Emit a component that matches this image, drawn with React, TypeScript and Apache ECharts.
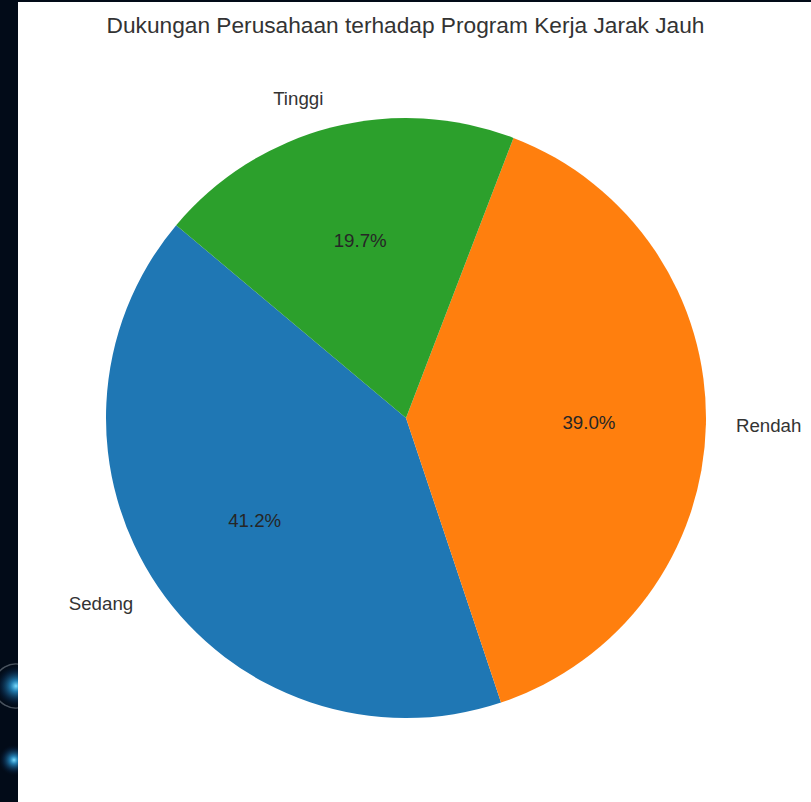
import React, { useEffect, useRef } from "react";
import * as echarts from "echarts";

const titleText = "Dukungan Perusahaan terhadap Program Kerja Jarak Jauh";
const categories = ["Sedang", "Rendah", "Tinggi"];
const shares = [41.2, 39.0, 19.7];
const colors = ["#1f77b4", "#ff7f0e", "#2ca02c"];

const FONT = "'Liberation Sans', Arial, sans-serif";

export default function App() {
  const ref = useRef<HTMLDivElement>(null);
  useEffect(() => {
    if (!ref.current) return;
    const chart = echarts.init(ref.current, undefined, { renderer: "svg" });
    const data = categories.map((c, i) => ({
      name: c,
      value: shares[i],
      itemStyle: { color: colors[i] },
    }));
    const glow = (cx: number, cy: number, r: number, ring: boolean) => [
      {
        type: "circle",
        shape: { cx, cy, r },
        style: {
          fill: new echarts.graphic.RadialGradient(0.5, 0.5, 0.5, [
            { offset: 0, color: "rgba(120,220,255,1)" },
            { offset: 0.25, color: "rgba(40,150,210,0.8)" },
            { offset: 0.7, color: "rgba(10,50,90,0.4)" },
            { offset: 1, color: "rgba(2,11,24,0)" },
          ]),
          stroke: ring ? "rgba(120,130,140,0.6)" : "none",
          lineWidth: ring ? 1.5 : 0,
        },
      },
    ];
    chart.setOption({
      animation: false,
      backgroundColor: "#ffffff",
      title: {
        text: titleText,
        left: "center",
        top: 8,
        textStyle: {
          fontFamily: FONT,
          fontSize: 22.7,
          fontWeight: "normal",
          color: "#333333",
        },
      },
      graphic: [
        { type: "rect", shape: { x: 0, y: 0, width: 811, height: 802 }, style: { fill: "#020b18" } },
        ...glow(16, 686, 22, true),
        ...glow(14, 760, 16, false),
        { type: "rect", shape: { x: 18, y: 2, width: 793, height: 800 }, style: { fill: "#ffffff" } },
      ],
      series: [
        {
          type: "pie",
          center: [406, 418],
          radius: [0, 300],
          startAngle: 140,
          clockwise: false,
          avoidLabelOverlap: false,
          data,
          label: {
            show: true,
            position: "outside",
            formatter: "{b}",
            fontFamily: FONT,
            fontSize: 18.7,
            color: "#333333",
            distanceToLabelLine: 0,
          },
          labelLine: { show: false, length: 30, length2: 0 },
          emphasis: { disabled: true },
        },
        {
          type: "pie",
          center: [406, 418],
          radius: [60, 300],
          startAngle: 140,
          clockwise: false,
          avoidLabelOverlap: false,
          silent: true,
          data: data.map((d) => ({ ...d, itemStyle: { color: "rgba(0,0,0,0)" } })),
          label: {
            show: true,
            position: "inside",
            formatter: (p: any) => p.value.toFixed(1) + "%",
            fontFamily: FONT,
            fontSize: 18.7,
            color: "#262626",
          },
          labelLine: { show: false },
          emphasis: { disabled: true },
        },
      ],
    });
    return () => chart.dispose();
  }, []);
  return (
    <div
      ref={ref}
      style={{ position: "absolute", left: 0, top: 0, width: 811, height: 802 }}
    />
  );
}
